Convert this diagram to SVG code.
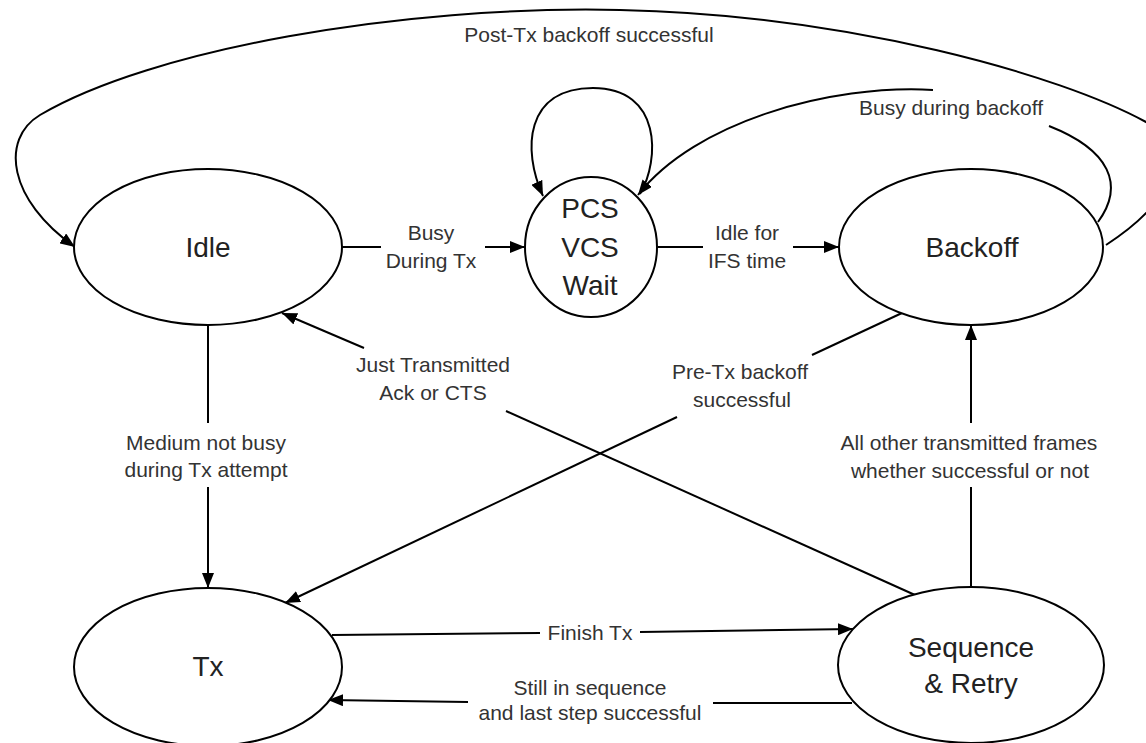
<svg xmlns="http://www.w3.org/2000/svg" width="1146" height="743" viewBox="0 0 1146 743">
  <style>
    .node { fill: #ffffff; stroke: #000000; stroke-width: 2; }
    .name { font-family: "Liberation Sans", Arial, sans-serif; font-size: 28px; fill: #222222; text-anchor: middle; }
    .edge { fill: none; stroke: #000000; stroke-width: 2; }
    .arrow { fill: none; stroke: #000000; stroke-width: 2; marker-end: url(#head); }
    .lbl { font-family: "Liberation Sans", Arial, sans-serif; font-size: 21px; fill: #333333; text-anchor: middle; }
  </style>
  <defs>
    <marker id="head" markerUnits="userSpaceOnUse" markerWidth="16" markerHeight="12" refX="15" refY="6" orient="auto">
      <path d="M0,0 L15,6 L0,12 z" fill="#000000"/>
    </marker>
  </defs>
  <rect width="1146" height="743" fill="#ffffff"/>

  <!-- transitions -->
  <g id="connectors">
    <!-- Backoff -> Idle : post-Tx backoff successful (wraps over the top, past the right edge) -->
    <path class="arrow" d="M 1106 245 C 1160 210, 1200 160, 1146 122 C 1060 75, 850 15, 620 10 C 400 5, 150 50, 40 115 C 0 139, 8 200, 75 247"/>
    <!-- Backoff -> PCS/VCS wait : busy during backoff -->
    <path class="edge" d="M 1098 222 C 1125 185, 1110 150, 1049 126"/>
    <path class="arrow" d="M 933 90 C 830 84, 695 122, 638 195"/>
    <!-- PCS/VCS wait self loop -->
    <path class="arrow" d="M 640 194 C 660 160, 662 88, 593 88 C 525 88, 522 150, 543 196"/>
    <!-- Idle -> PCS/VCS wait -->
    <line class="edge" x1="342" y1="247" x2="381" y2="247"/>
    <line class="arrow" x1="485" y1="247" x2="525" y2="247"/>
    <!-- PCS/VCS wait -> Backoff -->
    <line class="edge" x1="658" y1="247" x2="703" y2="247"/>
    <line class="arrow" x1="793" y1="247" x2="839" y2="247"/>
    <!-- Idle -> Tx -->
    <line class="edge" x1="208" y1="325" x2="208" y2="423"/>
    <line class="arrow" x1="208" y1="487" x2="208" y2="588"/>
    <!-- Sequence & Retry -> Idle : just transmitted Ack or CTS -->
    <line class="edge" x1="915" y1="595" x2="506" y2="411"/>
    <line class="arrow" x1="364" y1="348" x2="282" y2="313"/>
    <!-- Backoff -> Tx : pre-Tx backoff successful -->
    <line class="edge" x1="902" y1="313" x2="812" y2="355"/>
    <line class="arrow" x1="677" y1="417" x2="285" y2="603"/>
    <!-- Sequence & Retry -> Backoff -->
    <line class="arrow" x1="971" y1="423" x2="971" y2="325"/>
    <line class="edge" x1="971" y1="487" x2="971" y2="587"/>
    <!-- Tx -> Sequence & Retry : finish Tx -->
    <line class="edge" x1="332" y1="635" x2="540" y2="633"/>
    <line class="arrow" x1="640" y1="632" x2="853" y2="629"/>
    <!-- Sequence & Retry -> Tx : still in sequence -->
    <line class="edge" x1="852" y1="703" x2="713" y2="703"/>
    <line class="arrow" x1="468" y1="702" x2="328" y2="700"/>

    <text class="lbl" x="589" y="42">Post-Tx backoff successful</text>
    <text class="lbl" x="951" y="115">Busy during backoff</text>
    <text class="lbl" x="431" y="240">Busy</text>
    <text class="lbl" x="431" y="268">During Tx</text>
    <text class="lbl" x="747" y="240">Idle for</text>
    <text class="lbl" x="747" y="268">IFS time</text>
    <text class="lbl" x="433" y="372">Just Transmitted</text>
    <text class="lbl" x="433" y="400">Ack or CTS</text>
    <text class="lbl" x="740" y="379">Pre-Tx backoff</text>
    <text class="lbl" x="742" y="407">successful</text>
    <text class="lbl" x="206" y="450">Medium not busy</text>
    <text class="lbl" x="206" y="477">during Tx attempt</text>
    <text class="lbl" x="969" y="450">All other transmitted frames</text>
    <text class="lbl" x="970" y="478">whether successful or not</text>
    <text class="lbl" x="590" y="640">Finish Tx</text>
    <text class="lbl" x="590" y="695">Still in sequence</text>
    <text class="lbl" x="590" y="720">and last step successful</text>
  </g>

  <!-- states -->
  <g id="idle">
    <ellipse class="node" cx="208" cy="247" rx="134" ry="78"/>
    <text class="name" x="208" y="257">Idle</text>
  </g>
  <g id="wait">
    <ellipse class="node" cx="591" cy="247" rx="66" ry="70"/>
    <text class="name" x="590" y="218">PCS</text>
    <text class="name" x="590" y="257">VCS</text>
    <text class="name" x="590" y="295">Wait</text>
  </g>
  <g id="backoff">
    <ellipse class="node" cx="971" cy="247" rx="132" ry="78"/>
    <text class="name" x="972" y="257">Backoff</text>
  </g>
  <g id="tx">
    <ellipse class="node" cx="208" cy="667" rx="134" ry="79"/>
    <text class="name" x="208" y="676">Tx</text>
  </g>
  <g id="sequence">
    <ellipse class="node" cx="971" cy="665" rx="133" ry="78"/>
    <text class="name" x="971" y="657">Sequence</text>
    <text class="name" x="971" y="693">&amp; Retry</text>
  </g>
</svg>
